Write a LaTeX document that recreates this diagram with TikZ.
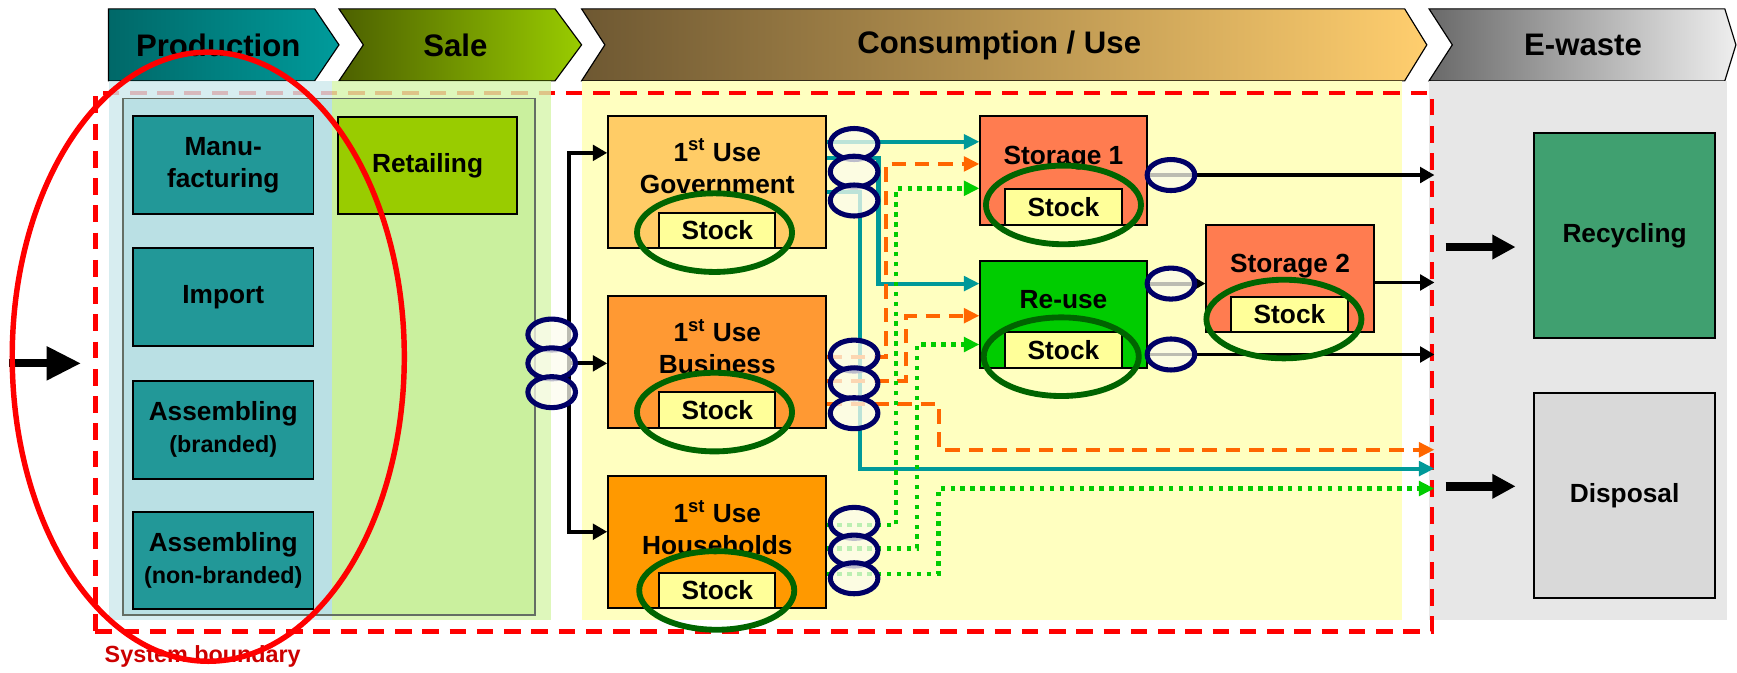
\documentclass[tikz,border=0pt]{standalone}
\usepackage{fontspec}
\setmainfont{Liberation Sans}
\usepackage{xcolor}
\usetikzlibrary{shapes.geometric,arrows.meta}
\definecolor{prodA}{RGB}{0,104,104}
\definecolor{prodB}{RGB}{0,155,155}
\definecolor{saleA}{RGB}{76,96,0}
\definecolor{saleB}{RGB}{153,204,0}
\definecolor{consA}{RGB}{110,88,50}
\definecolor{consB}{RGB}{255,206,110}
\definecolor{ewA}{RGB}{105,105,105}
\definecolor{ewB}{RGB}{238,238,238}
\definecolor{prodbg}{RGB}{205,232,236}
\definecolor{prodin}{RGB}{186,224,228}
\definecolor{salebg}{RGB}{214,245,170}
\definecolor{salein}{RGB}{202,240,158}
\definecolor{consbg}{RGB}{255,255,192}
\definecolor{ewbg}{RGB}{231,231,231}
\definecolor{innergray}{RGB}{100,110,100}
\definecolor{prodbox}{RGB}{34,152,152}
\definecolor{retailfill}{RGB}{153,204,0}
\definecolor{govfill}{RGB}{255,204,102}
\definecolor{busfill}{RGB}{255,153,51}
\definecolor{hhfill}{RGB}{255,153,0}
\definecolor{storefill}{RGB}{255,124,80}
\definecolor{reusefill}{RGB}{0,204,0}
\definecolor{stockfill}{RGB}{255,255,153}
\definecolor{recycfill}{RGB}{64,160,112}
\definecolor{dispfill}{RGB}{217,217,217}
\definecolor{ringgreen}{RGB}{0,100,0}
\definecolor{tapnavy}{RGB}{0,0,102}
\definecolor{tapfill}{RGB}{252,252,238}
\definecolor{flowteal}{RGB}{0,153,153}
\definecolor{floworange}{RGB}{255,102,0}
\definecolor{flowgreen}{RGB}{0,204,0}
\definecolor{bndred}{RGB}{255,0,0}
\definecolor{sbred}{RGB}{204,0,0}

\begin{document}
\begin{tikzpicture}[
    x=0.02cm, y=-0.02cm,
    every node/.style={font=\bfseries\fontsize{13.5}{16.5}\selectfont, align=center, inner sep=0pt},
    phasetxt/.style={font=\bfseries\fontsize{16}{19}\selectfont},
    phase/.style={draw=black, line width=0.6pt},
    unit/.style={draw=black, line width=1pt, rectangle},
    stockbox/.style={draw=black, line width=1pt, fill=stockfill, minimum width=2.1cm, minimum height=0.64cm},
    stockring/.style={draw=ringgreen, ellipse, line width=3pt, minimum width=2.8cm, minimum height=1.42cm},
    tap/.style={draw=tapnavy, ellipse, line width=2.6pt, fill=tapfill, fill opacity=0.75, minimum width=0.86cm, minimum height=0.56cm},
    sysline/.style={draw=bndred, line width=2.3pt, dash pattern=on 8.5pt off 5.5pt},
    tealflow/.style={draw=flowteal, line width=2.1pt, -{Triangle[length=0.28cm,width=0.26cm]}},
    orangeflow/.style={draw=floworange, line width=2.1pt, dash pattern=on 7.5pt off 4.5pt, -{Triangle[length=0.28cm,width=0.26cm]}},
    greenflow/.style={draw=flowgreen, line width=2.3pt, dash pattern=on 2.3pt off 2.8pt, -{Triangle[length=0.28cm,width=0.26cm]}},
    blackflow/.style={draw=black, line width=2pt, -{Triangle[length=0.26cm,width=0.28cm]}},
    bigarrow/.style={draw=black, line width=4.4pt, -{Triangle[length=0.42cm,width=0.42cm]}},
]
  \useasboundingbox (0,0) rectangle (1568,607);

  \path[phase, left color=prodA, right color=prodB] (98,8) -- (284,8) -- (306,40.5) -- (284,73) -- (98,73) -- cycle;
  \path[phase, left color=saleA, right color=saleB] (306,8) -- (501,8) -- (525,40.5) -- (501,73) -- (306,73) -- (328,40.5) -- cycle;
  \path[phase, left color=consA, right color=consB] (525,8) -- (1268,8) -- (1288,40.5) -- (1268,73) -- (525,73) -- (546,40.5) -- cycle;
  \path[phase, left color=ewA, right color=ewB] (1290,8) -- (1557,8) -- (1567,40.5) -- (1557,73) -- (1290,73) -- (1311,40.5) -- cycle;
  \node[phasetxt] (hprod) at (197,41) {Production};
  \node[phasetxt] (hsale) at (411,41) {Sale};
  \node[phasetxt] (hcons) at (902,41) {Consumption / Use};
  \node[phasetxt] (hew) at (1429,41) {E-waste};

  \fill[consbg] (525,73) rectangle (1266,560);
  \fill[ewbg] (1290,73) rectangle (1559,560);
  \node[sysline, minimum width=24.14cm, minimum height=9.72cm] (sysb) at (689.5,327) {};
  \fill[prodbg, fill opacity=0.8] (98,73) rectangle (300,560);
  \fill[salebg, fill opacity=0.8] (300,73) rectangle (497,560);
  \fill[prodin] (111,89) rectangle (300,555);
  \fill[salein] (300,89) rectangle (483,555);
  \draw[innergray, line width=0.8pt] (111,89) rectangle (483,555);

  \node[unit, fill=prodbox, minimum width=3.26cm, minimum height=1.76cm] (manu) at (201.5,149) {Manu-\\facturing};
  \node[unit, fill=prodbox, minimum width=3.26cm, minimum height=1.76cm] (import) at (201.5,268) {Import};
  \node[unit, fill=prodbox, minimum width=3.26cm, minimum height=1.76cm] (asmb) at (201.5,388) {Assembling\\{\fontsize{12}{15}\selectfont (branded)}};
  \node[unit, fill=prodbox, minimum width=3.26cm, minimum height=1.76cm] (asmnb) at (201.5,506) {Assembling\\{\fontsize{12}{15}\selectfont (non-branded)}};
  \node[unit, fill=retailfill, minimum width=3.24cm, minimum height=1.74cm] (retail) at (386,149.5) {Retailing};

  \node[unit, fill=govfill, minimum width=3.94cm, minimum height=2.38cm] (gov) at (647.5,164.5) {};
  \node[unit, fill=busfill, minimum width=3.94cm, minimum height=2.38cm] (bus) at (647.5,326.5) {};
  \node[unit, fill=hhfill, minimum width=3.94cm, minimum height=2.38cm] (hh) at (647.5,489.5) {};
  \node (govtxt) at (647.5,150) {1\textsuperscript{st} Use\\Government};
  \node (bustxt) at (647.5,313) {1\textsuperscript{st} Use\\Business};
  \node (hhtxt) at (647.5,476) {1\textsuperscript{st} Use\\Households};

  \node[unit, fill=storefill, minimum width=3.0cm, minimum height=1.96cm] (s1) at (960,154) {};
  \node[unit, fill=reusefill, minimum width=3.0cm, minimum height=1.92cm] (reuse) at (960,284) {};
  \node[unit, fill=storefill, minimum width=3.02cm, minimum height=1.94cm] (s2) at (1164.5,251.5) {};
  \node (s1txt) at (960,143) {Storage 1};
  \node (reusetxt) at (960,270) {Re-use};
  \node (s2txt) at (1164.5,240) {Storage 2};

  \node[unit, fill=recycfill, minimum width=3.26cm, minimum height=3.7cm] (recyc) at (1466.5,212.5) {Recycling};
  \node[unit, fill=dispfill, minimum width=3.26cm, minimum height=3.7cm] (disp) at (1466.5,447.5) {Disposal};

  \coordinate (split) at (514,328);
  \draw[blackflow] (split) |- (gov.west |- 0,138);
  \draw[blackflow] (split) -- (bus.west |- split);
  \draw[blackflow] (split) |- (hh.west |- 0,480);

  \draw[tealflow] (gov.east |- 0,128) -- (s1.west |- 0,128);
  \draw[tealflow] (gov.east |- 0,143) -- (793,143) |- (reuse.west |- 0,256);
  \draw[tealflow] (gov.east |- 0,173) -- (776,173) |- (sysb.east |- 0,423);
  \draw[orangeflow] (bus.east |- 0,322) -- (800,322) |- (s1.west |- 0,148);
  \draw[orangeflow] (bus.east |- 0,344) -- (818,344) |- (reuse.west |- 0,285);
  \draw[orangeflow] (bus.east |- 0,365) -- (848,365) |- (sysb.east |- 0,406);
  \draw[greenflow] (hh.east |- 0,474) -- (809,474) |- (s1.west |- 0,170);
  \draw[greenflow] (hh.east |- 0,495) -- (828,495) |- (reuse.west |- 0,311);
  \draw[greenflow] (hh.east |- 0,518) -- (847,518) |- (sysb.east |- 0,441);
  \draw[blackflow] (s1.east |- 0,158) -- (sysb.east |- 0,158);
  \draw[blackflow] (reuse.east |- 0,256) -- (s2.west |- 0,256);
  \draw[blackflow] (s2.east |- 0,255) -- (sysb.east |- 0,255);
  \draw[blackflow] (reuse.east |- 0,320) -- (sysb.east |- 0,320);

  \node[tap] (sale1) at (498,302) {};
  \node[tap] (sale2) at (498,328) {};
  \node[tap] (sale3) at (498,354) {};
  \node[tap] (gov1) at (771,130) {};
  \node[tap] (gov2) at (771,155) {};
  \node[tap] (gov3) at (771,181) {};
  \node[tap] (bus1) at (771,321) {};
  \node[tap] (bus2) at (771,346) {};
  \node[tap] (bus3) at (771,373) {};
  \node[tap] (hh1) at (771,472) {};
  \node[tap] (hh2) at (771,497) {};
  \node[tap] (hh3) at (771,522) {};
  \node[tap] (s1out) at (1057,158) {};
  \node[tap] (ru1) at (1057,256) {};
  \node[tap] (ru2) at (1057,320) {};

  \node[stockbox] (govstock) at (647.5,208) {Stock};
  \node[stockbox] (busstock) at (647.5,370) {Stock};
  \node[stockbox] (hhstock) at (647.5,533) {Stock};
  \node[stockbox] (s1stock) at (960,187) {Stock};
  \node[stockbox] (reusestock) at (960,316) {Stock};
  \node[stockbox] (s2stock) at (1164,284) {Stock};
  \node[stockring] (govring) at (645,210) {};
  \node[stockring] (busring) at (645,372) {};
  \node[stockring] (hhring) at (647,533) {};
  \node[stockring] (s1ring) at (960,185) {};
  \node[stockring] (reusering) at (958,322) {};
  \node[stockring] (s2ring) at (1159,288) {};

  \coordinate (inflow) at (8,328);
  \draw[bigarrow, line width=4pt, -{Triangle[length=0.62cm,width=0.58cm]}, shorten >=0.22cm] (inflow) -- (sysb.west |- inflow);
  \draw[bigarrow, shorten <=0.2cm, shorten >=0.32cm] (sysb.east |- 0,223) -- (recyc.west |- 0,223);
  \draw[bigarrow, shorten <=0.2cm, shorten >=0.32cm] (sysb.east |- 0,439) -- (disp.west |- 0,439);

  \node[text=sbred, font=\bfseries\fontsize{12}{14}\selectfont] (sblabel) at (183,593) {System boundary};
  \node[draw=bndred, ellipse, line width=2.8pt, minimum width=7.08cm, minimum height=11cm] (prodring) at (188,322) {};
\end{tikzpicture}
\end{document}
